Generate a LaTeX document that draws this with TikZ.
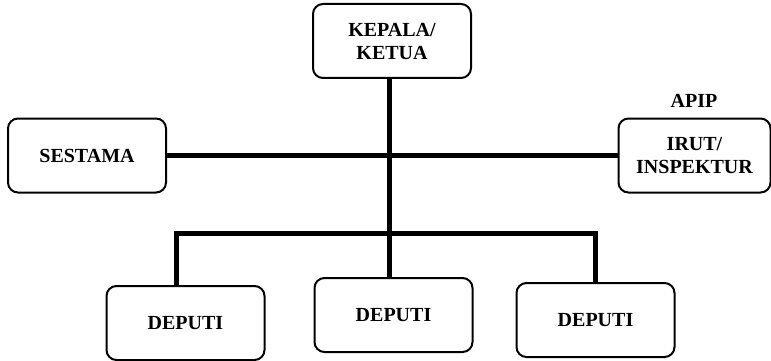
\documentclass[tikz,border=0pt]{standalone}
\usepackage{fontspec}
\setmainfont{Liberation Serif}

\begin{document}
\begin{tikzpicture}[x=1pt,y=-1pt,
  kotak/.style={draw,line width=2pt,rounded corners=10pt,minimum width=158pt,minimum height=74pt,align=center,font=\bfseries\fontsize{20}{23}\selectfont},
  garis/.style={line width=5pt}]
\useasboundingbox (0,0) rectangle (771,361);
\node[kotak] (kepala) at (392,41) {KEPALA/\\KETUA};
\node[kotak] (sestama) at (87,155.5) {SESTAMA};
\node[kotak,minimum width=152pt] (irut) at (694.5,155.5) {IRUT/\\INSPEKTUR};
\node[font=\bfseries\fontsize{20}{23}\selectfont] (apip) at (694,101) {APIP};
\node[kotak] (deputiA) at (185.5,323) {DEPUTI};
\node[kotak] (deputiB) at (393.5,315) {DEPUTI};
\node[kotak] (deputiC) at (595.5,320) {DEPUTI};
\coordinate (bar) at (389,233);
\draw[garis] (sestama.east) -- (irut.west);
\draw[garis] ([xshift=-3pt]kepala.south) -- ([xshift=-4.5pt]deputiB.north);
\draw[garis] ([xshift=-9pt]deputiA.north) |- (bar) -| (deputiC.north);
\end{tikzpicture}
\end{document}
